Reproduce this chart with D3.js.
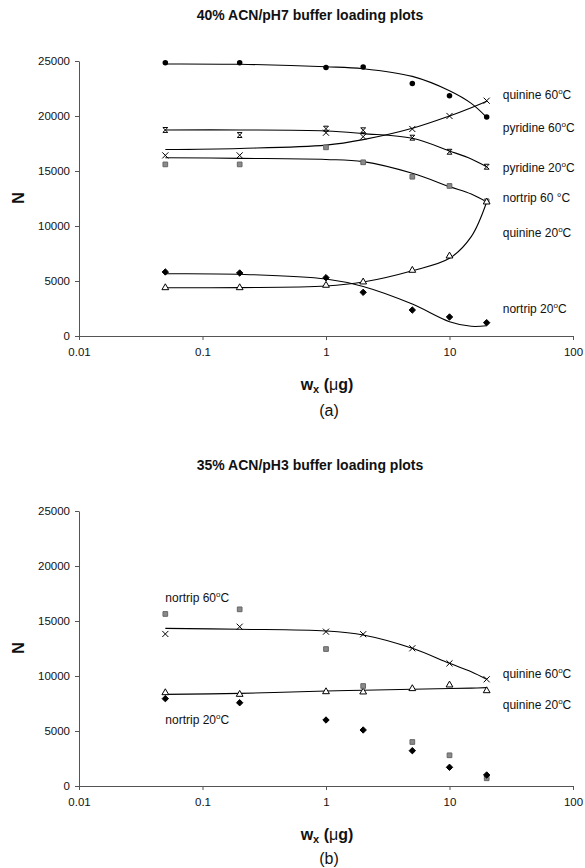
<!DOCTYPE html>
<html>
<head>
<meta charset="utf-8">
<script src="https://cdn.jsdelivr.net/npm/d3@7"></script>
<style>
body { margin: 0; background: #fff; }
svg text { font-family: "Liberation Sans", Arial, sans-serif; fill: #111; }
</style>
</head>
<body>
<div class="chart"></div>
<script>

var width = 585,
  height = 868;

// sample loads (ug) and the x positions the trend lines were read at
var loads = [0.05, 0.2, 1, 2, 5, 10, 20];
var fitLoads = [0.05, 0.2, 1, 2, 5, 10, 15, 20];
var xTicks = [0.01, 0.1, 1, 10, 100];
var yTicks = [0, 5000, 10000, 15000, 20000, 25000];

// (a) 40% ACN/pH7
var aCircle = [24850, 24850, 24400, 24450, 22950, 21850, 19900];
var aCircleFit = [24730, 24700, 24480, 24300, 23600, 22300, 21150, 19880];
var aCross = [16420, 16420, 18480, 18120, 18820, 20000, 21390];
var aCrossFit = [16950, 17050, 17350, 17850, 18880, 20000, 20750, 21350];
var aStar = [18730, 18270, 18850, 18700, 18030, 16750, 15390];
var aStarFit = [18730, 18730, 18640, 18400, 17970, 16820, 16100, 15390];
var aSquare = [15600, 15600, 17150, 15790, 14480, 13640, 12250];
var aSquareFit = [16210, 16150, 16050, 15850, 14790, 13580, 12900, 12180];
var aTriangle = [4390, 4390, 4610, 4910, 5970, 7270, 12180];
var aTriangleFit = [4390, 4400, 4545, 4910, 5940, 7060, 9030, 12180];
var aDiamond = [5820, 5730, 5300, 3970, 2360, 1730, 1210];
var aDiamondFit = [5660, 5610, 5180, 4500, 2900, 1300, 880, 930];
var aLabels = ['quinine 60^C', 'pyridine 60^C', 'pyridine 20^C', 'nortrip 60 \u00B0C', 'quinine 20^C', 'nortrip 20^C'];

// (b) 35% ACN/pH3
var bSquare = [15640, 16060, 12450, 9090, 4000, 2790, 700];
var bCross = [13820, 14480, 14030, 13800, 12520, 11150, 9700];
var bCrossFit = [14330, 14250, 14090, 13730, 12520, 11150, 10390, 9700];
var bTriangle = [8480, 8330, 8570, 8545, 8850, 9180, 8660];
var bTriangleFit = [8330, 8420, 8640, 8700, 8790, 8860, 8900, 8940];
var bDiamond = [7940, 7570, 6000, 5090, 3210, 1700, 1000];
var bLabels = ['nortrip 60^C', 'nortrip 20^C', 'quinine 60^C', 'quinine 20^C'];

var svg = d3.select('.chart')
  .append('svg')
  .attr('width', width)
  .attr('height', height);

// excel "star" marker, looks like an hourglass at this size
var hourglass = {
  draw: function(ctx, size) {
    var s = Math.sqrt(size) / 2;
    ctx.moveTo(-s, -s);
    ctx.lineTo(s, -s);
    ctx.lineTo(-s, s);
    ctx.lineTo(s, s);
    ctx.closePath();
  }
};

var markers = {
  circle: {type: d3.symbolCircle, size: 24, fill: '#000', stroke: 'none'},
  cross: {type: d3.symbolTimes, size: 26, fill: 'none', stroke: '#000'},
  star: {type: hourglass, size: 24, fill: 'none', stroke: '#000'},
  square: {type: d3.symbolSquare, size: 22, fill: '#8a8a8a', stroke: '#666'},
  triangle: {type: d3.symbolTriangle, size: 20, fill: '#fff', stroke: '#000'},
  diamond: {type: d3.symbolDiamond2, size: 26, fill: '#000', stroke: '#000'}
};

var xScale = d3.scaleLog()
  .domain([0.01, 100])
  .range([79, 573]);

function addLabel(g, str, x, y, anchor) {
  var t = g.append('text')
    .attr('x', x)
    .attr('y', y)
    .attr('dy', '0.35em')
    .attr('text-anchor', anchor || 'start')
    .style('font-size', '12px');
  var parts = str.split('^');
  t.append('tspan').text(parts[0]);
  if (parts.length > 1) {
    t.append('tspan').attr('dy', '-5').style('font-size', '8px').text('o');
    t.append('tspan').attr('dy', '5').text(parts[1]);
  }
}

function drawPanel(off, title, tag, series, labels) {
  var g = svg.append('g');

  var yScale = d3.scaleLinear()
    .domain([0, 25000])
    .range([off + 336, off + 61]);

  g.append('text')
    .attr('x', 310)
    .attr('y', off + 20)
    .attr('text-anchor', 'middle')
    .style('font-size', '14px')
    .style('font-weight', 'bold')
    .text(title);

  //AXES
  var xAxis = d3.axisBottom(xScale)
    .tickValues(xTicks)
    .tickSize(4)
    .tickSizeOuter(0)
    .tickPadding(8)
    .tickFormat(function(d) { return String(d); });

  var yAxis = d3.axisLeft(yScale)
    .tickValues(yTicks)
    .tickSize(4)
    .tickSizeOuter(0)
    .tickPadding(5)
    .tickFormat(d3.format('d'));

  var xg = g.append('g')
    .attr('transform', 'translate(0,' + (off + 336) + ')')
    .call(xAxis);
  var yg = g.append('g')
    .attr('transform', 'translate(79,0)')
    .call(yAxis);

  [xg, yg].forEach(function(a) {
    a.select('.domain').attr('stroke', '#555');
    a.selectAll('.tick line').attr('stroke', '#555');
    a.selectAll('.tick text')
      .style('font-family', '"Liberation Sans", Arial, sans-serif')
      .style('font-size', '11.5px')
      .attr('fill', '#111');
  });

  // axis titles
  g.append('text')
    .attr('transform', 'translate(24,' + (off + 198) + ') rotate(-90)')
    .attr('text-anchor', 'middle')
    .style('font-size', '16px')
    .style('font-weight', 'bold')
    .text('N');

  var xt = g.append('text')
    .attr('x', 327)
    .attr('y', off + 390)
    .attr('text-anchor', 'middle')
    .style('font-size', '16px')
    .style('font-weight', 'bold');
  xt.append('tspan').text('w');
  xt.append('tspan').attr('dy', '3').style('font-size', '11px').text('x');
  xt.append('tspan').attr('dy', '-3').text(' (');
  xt.append('tspan').style('font-weight', 'normal').text('\u03BC');
  xt.append('tspan').text('g)');

  g.append('text')
    .attr('x', 329)
    .attr('y', off + (off ? 414 : 416))
    .attr('text-anchor', 'middle')
    .style('font-size', '16px')
    .text(tag);

  //TREND LINES
  var line = d3.line()
    .x(function(d) { return xScale(d[0]); })
    .y(function(d) { return yScale(d[1]); })
    .curve(d3.curveCatmullRom.alpha(0.5));

  series.forEach(function(s) {
    if (!s.fit) return;
    g.append('path')
      .datum(d3.zip(fitLoads, s.fit))
      .attr('d', line)
      .attr('fill', 'none')
      .attr('stroke', '#000')
      .attr('stroke-width', 1.1);
  });

  //POINTS
  series.forEach(function(s) {
    var m = markers[s.marker];
    g.selectAll(null)
      .data(d3.zip(loads, s.vals))
      .enter()
      .append('path')
      .attr('transform', function(d) {
        return 'translate(' + xScale(d[0]) + ',' + yScale(d[1]) + ')';
      })
      .attr('d', d3.symbol().type(m.type).size(m.size))
      .attr('fill', m.fill)
      .attr('stroke', m.stroke)
      .attr('stroke-width', 1);
  });

  labels.forEach(function(l) {
    addLabel(g, l.text, xScale(l.x), yScale(l.y));
  });
}

drawPanel(0, '40% ACN/pH7 buffer loading plots', '(a)', [
  {vals: aCircle, fit: aCircleFit, marker: 'circle'},
  {vals: aCross, fit: aCrossFit, marker: 'cross'},
  {vals: aStar, fit: aStarFit, marker: 'star'},
  {vals: aSquare, fit: aSquareFit, marker: 'square'},
  {vals: aTriangle, fit: aTriangleFit, marker: 'triangle'},
  {vals: aDiamond, fit: aDiamondFit, marker: 'diamond'}
], [
  {text: aLabels[0], x: 27, y: 21900},
  {text: aLabels[1], x: 27, y: 18900},
  {text: aLabels[2], x: 27, y: 15270},
  {text: aLabels[3], x: 27, y: 12550},
  {text: aLabels[4], x: 27, y: 9360},
  {text: aLabels[5], x: 27, y: 2450}
]);

drawPanel(450, '35% ACN/pH3 buffer loading plots', '(b)', [
  {vals: bCross, fit: bCrossFit, marker: 'cross'},
  {vals: bTriangle, fit: bTriangleFit, marker: 'triangle'},
  {vals: bSquare, marker: 'square'},
  {vals: bDiamond, marker: 'diamond'}
], [
  {text: bLabels[0], x: 0.05, y: 17150},
  {text: bLabels[1], x: 0.05, y: 6060},
  {text: bLabels[2], x: 27, y: 10240},
  {text: bLabels[3], x: 27, y: 7360}
]);

</script>
</body>
</html>
